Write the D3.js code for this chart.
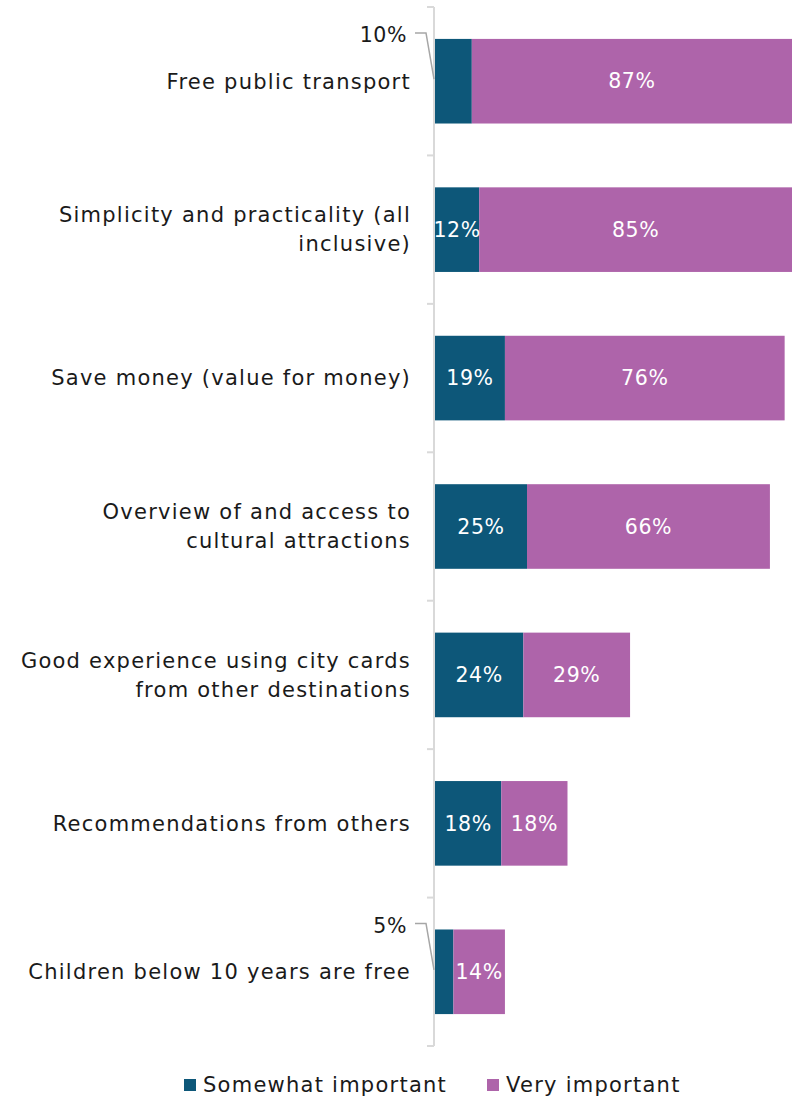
<!DOCTYPE html>
<html>
<head>
<meta charset="utf-8">
<script src="https://cdn.jsdelivr.net/npm/d3@7"></script>
<style>
  html, body { margin: 0; padding: 0; background: #fff; }
  svg text { font-family: "DejaVu Sans", sans-serif; }
  .lbl { font-size: 21px; letter-spacing: 1.25px; }
  .val { font-size: 20.5px; letter-spacing: 0.6px; }
</style>
</head>
<body>
<svg id="chart" width="796" height="1099"></svg>
<script>
// Reasons for buying a city card
const categories = [
  ["Free public transport"],
  ["Simplicity and practicality (all", "inclusive)"],
  ["Save money (value for money)"],
  ["Overview of and access to", "cultural attractions"],
  ["Good experience using city cards", "from other destinations"],
  ["Recommendations from others"],
  ["Children below 10 years are free"]
];
const somewhatImportant = [10, 12, 19, 25, 24, 18, 5];
const veryImportant = [87, 85, 76, 66, 29, 18, 14];
const seriesNames = ["Somewhat important", "Very important"];
const seriesColors = ["#0D5779", "#AE64AA"];

const svg = d3.select("#chart");
const keys = categories.map(c => c.join(" "));

const y = d3.scaleBand()
  .domain(keys)
  .range([7, 1046])
  .paddingInner(0.43)
  .paddingOuter(0.215);

const x = d3.scaleLinear().domain([0, 97]).range([435, 792]);

const rows = keys.map((k, i) => ({
  key: k, lines: categories[i],
  s: somewhatImportant[i], v: veryImportant[i]
}));

// Stacked bars
const stack = d3.stack().keys(["s", "v"])(rows);
stack.forEach((layer, li) => {
  svg.append("g").selectAll("rect")
    .data(layer)
    .join("rect")
    .attr("x", d => x(d[0]))
    .attr("width", d => x(d[1]) - x(d[0]))
    .attr("y", d => y(d.data.key))
    .attr("height", y.bandwidth())
    .attr("fill", seriesColors[li]);
});

// Category axis: vertical line with ticks at band boundaries
const axisG = svg.append("g");
const step = y.step();
const y0 = y.range()[0];
axisG.append("line")
  .attr("x1", x(0) - 1).attr("x2", x(0) - 1)
  .attr("y1", y0).attr("y2", y.range()[1])
  .attr("stroke", "#D9D9D9").attr("stroke-width", 2);
d3.range(keys.length + 1).forEach(i => {
  axisG.append("line")
    .attr("x1", x(0) - 8).attr("x2", x(0) - 1)
    .attr("y1", y0 + i * step).attr("y2", y0 + i * step)
    .attr("stroke", "#D9D9D9").attr("stroke-width", 2);
});

// Category labels
const lineH = 29;
rows.forEach(r => {
  const cy = y(r.key) + y.bandwidth() / 2;
  const t = svg.append("text")
    .attr("class", "lbl")
    .attr("text-anchor", "end")
    .attr("fill", "#1a1a1a");
  r.lines.forEach((ln, j) => {
    t.append("tspan")
      .attr("x", 411)
      .attr("y", cy + (j - (r.lines.length - 1) / 2) * lineH)
      .attr("dy", "0.35em")
      .text(ln);
  });
});

// Value labels
rows.forEach(r => {
  const top = y(r.key);
  const cy = top + y.bandwidth() / 2;
  // Somewhat important
  if (r.s > 10) {
    svg.append("text")
      .attr("class", "val")
      .attr("x", (x(0) + x(r.s)) / 2).attr("y", cy).attr("dy", "0.35em")
      .attr("text-anchor", "middle")
      .attr("fill", "#fff").text(r.s + "%");
  } else {
    // narrow segment: label sits outside with a leader line
    const ly = top - 4;
    svg.append("text")
      .attr("class", "val")
      .attr("x", x(0) - 28).attr("y", ly).attr("dy", "0.35em")
      .attr("text-anchor", "end")
      .attr("fill", "#1a1a1a").text(r.s + "%");
    svg.append("path")
      .attr("d", `M${x(0) - 20},${ly - 2}H${x(0) - 9}L${x(0) - 1},${cy - 2}`)
      .attr("fill", "none").attr("stroke", "#A6A6A6").attr("stroke-width", 1.5);
  }
  // Very important
  svg.append("text")
    .attr("class", "val")
    .attr("x", (x(r.s) + x(r.s + r.v)) / 2).attr("y", cy).attr("dy", "0.35em")
    .attr("text-anchor", "middle")
    .attr("fill", "#fff").text(r.v + "%");
});

// Legend
const legend = svg.append("g").attr("transform", "translate(0,1085)");
const legendX = [184, 487];
seriesNames.forEach((name, i) => {
  legend.append("rect")
    .attr("x", legendX[i]).attr("y", -6)
    .attr("width", 12).attr("height", 12)
    .attr("fill", seriesColors[i]);
  legend.append("text")
    .attr("class", "lbl")
    .attr("x", legendX[i] + 19).attr("y", 0).attr("dy", "0.35em")
    .attr("fill", "#1a1a1a")
    .text(name);
});
</script>
</body>
</html>
